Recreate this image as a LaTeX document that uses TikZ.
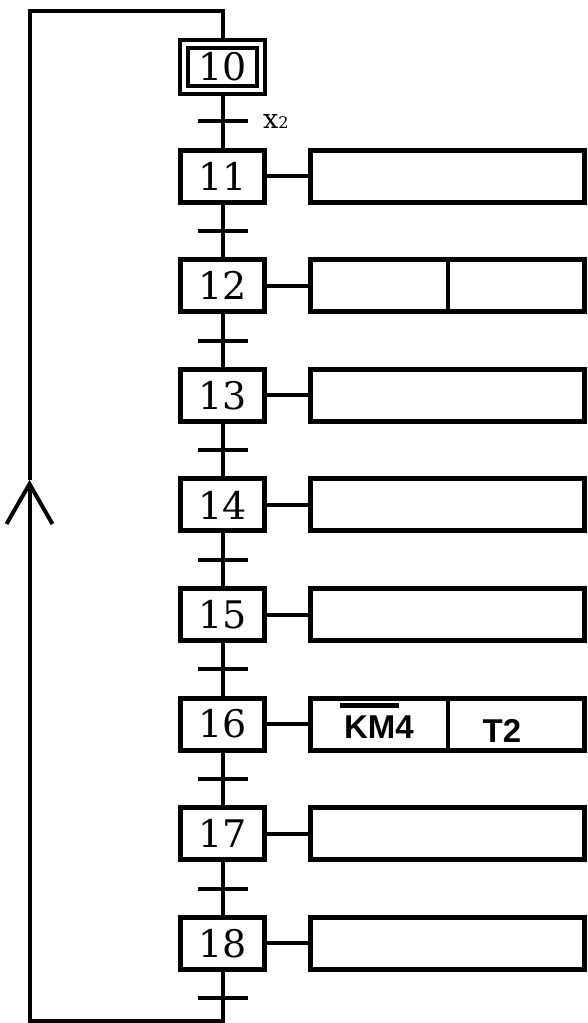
\documentclass[tikz,border=0pt]{standalone}
\usepackage{fontspec}
\newfontfamily\arialfont{Liberation Sans}
\newfontfamily\etapefont{DejaVu Serif}
\usepackage{tikz}
\usetikzlibrary{arrows.meta}
\begin{document}
\begin{tikzpicture}[x=1pt, y=-1pt]
\tikzstyle{etape}=[draw, line width=5pt, minimum width=84pt, minimum height=52pt,
                   inner sep=0pt, font=\etapefont\fontsize{38}{40}\selectfont]
\tikzstyle{init}=[etape, line width=4pt, double, double distance=4pt, minimum width=77pt, minimum height=46pt]
\tikzstyle{action}=[draw, line width=5pt, minimum width=274pt, minimum height=52pt, inner sep=0pt]
\tikzstyle{trans}=[fill, minimum width=50pt, minimum height=4pt, inner sep=0pt]
\tikzstyle{liaison}=[line width=4pt]
\tikzstyle{texte}=[anchor=base, inner sep=0pt, font=\arialfont\bfseries\fontsize{33}{36}\selectfont]
\useasboundingbox (0,0) rectangle (588,1023);
\node[init] (e10) at (222.5,66.5) {10};
\foreach \n [count=\k] in {11,...,18}{
  \node[etape] (e\n) at (222.5,66.5+109.6*\k) {\n};
  \node[action] (a\n) at (447.5,66.5+109.6*\k) {};
  \draw[liaison] (e\n) -- (a\n);
}
\foreach \n [count=\k from 0] in {10,...,18}{\node[trans] (t\n) at (222.5,121.3+109.6*\k) {};}
\foreach \i/\j in {e10/e11,e11/e12,e12/e13,e13/e14,e14/e15,e15/e16,e16/e17,e17/e18}{\draw[liaison] (\i) -- (\j);}
\foreach \n in {12,16}{\draw[liaison] (a\n.north) -- (a\n.south);}
\node[anchor=base west, inner sep=0pt, font=\etapefont] (x2) at (263,128) {{\fontsize{27}{28}\selectfont x}{\fontsize{16}{18}\selectfont 2}};
\node[texte] (km4) at (379,738) {\makebox[0pt][l]{\hspace{-4pt}\rule[30.5pt]{59pt}{4.5pt}}KM4};
\node[texte] (t2) at (502,742) {T2};
% retour vers l'etape initiale
\coordinate (bas) at (29.5,1020.5);
\coordinate (fleche) at (29.5,480);
\coordinate (haut) at (29.5,10.5);
\draw[liaison, -{Straight Barb[length=40pt, width=46pt]}] (e18) |- (bas) -- (fleche);
\draw[liaison] (fleche) -- (haut) -| (e10);
\end{tikzpicture}
\end{document}
